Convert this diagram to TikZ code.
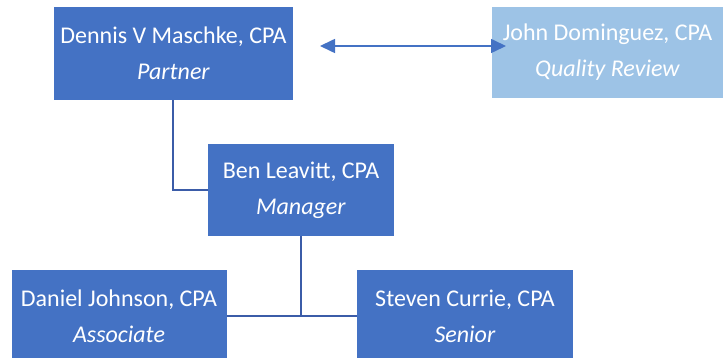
\documentclass[tikz,border=0pt]{standalone}
\usepackage{fontspec}
\setmainfont{Carlito}
\usetikzlibrary{arrows.meta}
\definecolor{boxblue}{HTML}{4472C4}
\definecolor{lightblue}{HTML}{9DC3E6}
\definecolor{linkblue}{RGB}{59,92,168}
\tikzset{
  orgbox/.style={fill=boxblue, draw=none, text=white, align=center, inner sep=0pt,
    font=\fontsize{24}{36}\selectfont},
  qbox/.style={orgbox, fill=lightblue},
  link/.style={draw=linkblue, line width=2.2pt},
  dbl/.style={draw=boxblue, line width=1.6pt, {Triangle[length=15pt,width=14pt]}-{Triangle[length=15pt,width=14pt]}}
}
\begin{document}
\begin{tikzpicture}[x=1pt,y=-1pt]
\useasboundingbox (0,0) rectangle (723,358);
\begin{scope}
\clip (0,0) rectangle (723,358);
\node[orgbox, minimum width=239pt, minimum height=93pt] (dennis) at (173.5,53.5) {Dennis V Maschke, CPA\\\textit{Partner}};
\node[qbox, minimum width=232pt, minimum height=91pt] (john) at (607.5,52.5) {John Dominguez, CPA\\\textit{Quality Review}};
\node[orgbox, minimum width=186pt, minimum height=92pt] (ben) at (301,190) {Ben Leavitt, CPA\\\textit{Manager}};
\node[orgbox, minimum width=215pt, minimum height=92pt] (daniel) at (119,316) {Daniel Johnson, CPA\\\textit{Associate}};
\node[orgbox, minimum width=216pt, minimum height=92pt] (steven) at (465,316) {Steven Currie, CPA\\\textit{Senior}};
\end{scope}
\coordinate (arrL) at (320,46);
\coordinate (arrR) at (506,46);
\draw[dbl] (arrL) -- (arrR);
\draw[link] (dennis.south -| 173,0) |- (ben.west);
\coordinate (jn) at (301,317);
\draw[link] (ben.south) -- (jn);
\draw[link] (daniel.east) -- (steven.west);
\end{tikzpicture}
\end{document}
